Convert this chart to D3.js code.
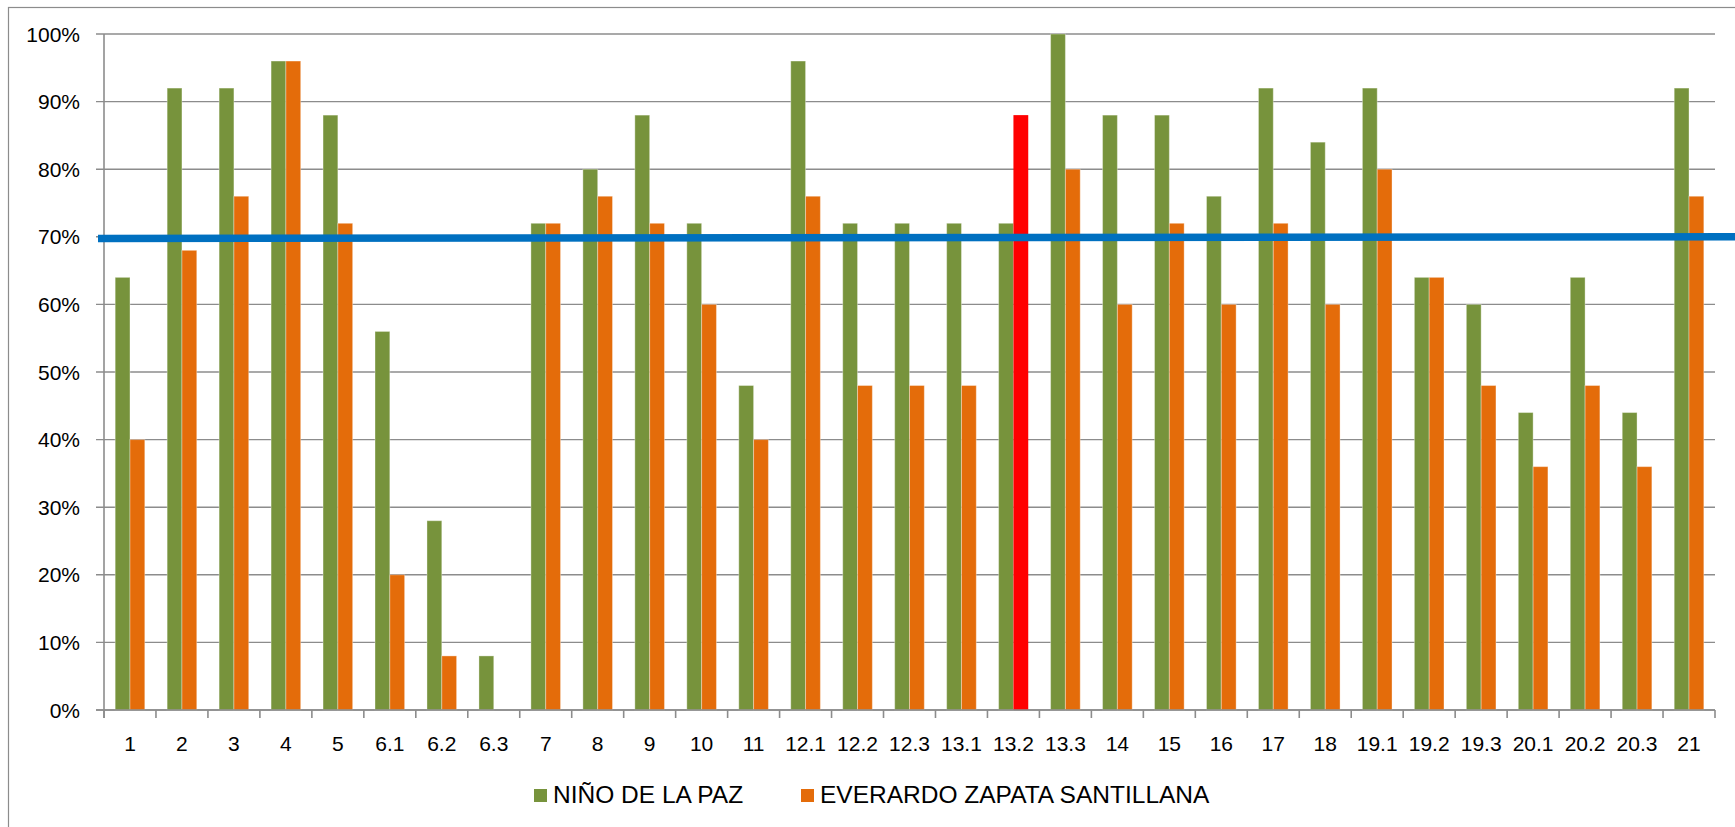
<!DOCTYPE html>
<html>
<head>
<meta charset="utf-8">
<script src="https://cdn.jsdelivr.net/npm/d3@7"></script>
<style>
  body { margin: 0; background: #fff; }
  text { font-family: 'Liberation Sans', Arial, sans-serif; fill: #000; }
</style>
</head>
<body>
<svg></svg>
<script>
let width = 1735;
let height = 827;

// data
let categories = ['1', '2', '3', '4', '5', '6.1', '6.2', '6.3', '7', '8', '9', '10', '11',
    '12.1', '12.2', '12.3', '13.1', '13.2', '13.3', '14', '15', '16', '17', '18',
    '19.1', '19.2', '19.3', '20.1', '20.2', '20.3', '21'];
let ninoDeLaPaz = [0.64, 0.92, 0.92, 0.96, 0.88, 0.56, 0.28, 0.08, 0.72, 0.80, 0.88, 0.72, 0.48,
    0.96, 0.72, 0.72, 0.72, 0.72, 1.00, 0.88, 0.88, 0.76, 0.92, 0.84,
    0.92, 0.64, 0.60, 0.44, 0.64, 0.44, 0.92];
let everardoZapata = [0.40, 0.68, 0.76, 0.96, 0.72, 0.20, 0.08, 0.00, 0.72, 0.76, 0.72, 0.60, 0.40,
    0.76, 0.48, 0.48, 0.48, 0.88, 0.80, 0.60, 0.72, 0.60, 0.72, 0.60,
    0.80, 0.64, 0.48, 0.36, 0.48, 0.36, 0.76];
let seriesNames = ['NIÑO DE LA PAZ', 'EVERARDO ZAPATA SANTILLANA'];
let highlightCategory = '13.2';
let yTicks = [0, 0.1, 0.2, 0.3, 0.4, 0.5, 0.6, 0.7, 0.8, 0.9, 1.0];
let targetLine = [0.6975, 0.70];   // hand-drawn 70% line, slightly tilted

let colors = ['#77933C', '#E46C0A'];
let highlightColor = '#FF0000';

let margin = {left: 104, right: 20, top: 34, bottom: 117};

let svg = d3.select('svg')
    .attr('width', width)
    .attr('height', height);

// outer chart frame
svg.append('rect')
    .attr('x', 8.5)
    .attr('y', 7.5)
    .attr('width', width)
    .attr('height', height)
    .attr('fill', 'none')
    .attr('stroke', '#8c8c8c')
    .attr('stroke-width', 1.2);

let x = d3.scaleBand()
    .domain(categories)
    .range([margin.left, width - margin.right]);

let xInner = d3.scaleBand()
    .domain([0, 1])
    .range([0, x.bandwidth() * 0.57])

let y = d3.scaleLinear()
    .domain([0, 1])
    .range([height - margin.bottom, margin.top]);

// gridlines
svg.append('g')
    .selectAll('line')
    .data(yTicks)
    .enter()
    .append('line')
    .attr('x1', margin.left - 8)
    .attr('x2', width - margin.right)
    .attr('y1', d => y(d))
    .attr('y2', d => y(d))
    .attr('stroke', '#8c8c8c')
    .attr('stroke-width', 1.4);

// y labels
svg.append('g')
    .selectAll('text')
    .data(yTicks)
    .enter()
    .append('text')
    .attr('x', 80)
    .attr('y', d => y(d))
    .attr('dy', '0.36em')
    .attr('text-anchor', 'end')
    .style('font-size', '21px')
    .text(d => d3.format('.0%')(d));

// bars
let rows = categories.map((c, i) => ({cat: c, vals: [ninoDeLaPaz[i], everardoZapata[i]]}));
let offset = (x.bandwidth() - x.bandwidth() * 0.57) / 2;

let groups = svg.append('g')
    .selectAll('g')
    .data(rows)
    .enter()
    .append('g')
    .attr('transform', d => 'translate(' + (x(d.cat) + offset) + ',0)');

groups.selectAll('rect')
    .data(d => d.vals.map((v, k) => ({cat: d.cat, k: k, v: v})))
    .enter()
    .filter(d => d.v > 0)
    .append('rect')
    .attr('x', d => xInner(d.k))
    .attr('width', xInner.bandwidth())
    .attr('y', d => y(d.v))
    .attr('height', d => y(0) - y(d.v))
    .attr('fill', function (d) {
        if (d.k == 1 && d.cat == highlightCategory) {
            return highlightColor;
        }
        return colors[d.k];
    })
    .attr('stroke', d => d.k == 1 && d.cat == highlightCategory ? 'none' : 'rgba(255,255,255,0.35)')
    .attr('stroke-width', 1);

// axes
let axisColor = '#8c8c8c';
svg.append('line')
    .attr('x1', margin.left)
    .attr('x2', margin.left)
    .attr('y1', y(1))
    .attr('y2', y(0) + 8)
    .attr('stroke', axisColor)
    .attr('stroke-width', 1.6);

svg.append('line')
    .attr('x1', margin.left - 8)
    .attr('x2', width - margin.right)
    .attr('y1', y(0))
    .attr('y2', y(0))
    .attr('stroke', axisColor)
    .attr('stroke-width', 1.6);

let tickPos = categories.map(c => x(c)).concat([x.range()[1]]);
svg.append('g')
    .selectAll('line')
    .data(tickPos)
    .enter()
    .append('line')
    .attr('x1', d => d)
    .attr('x2', d => d)
    .attr('y1', y(0))
    .attr('y2', y(0) + 8)
    .attr('stroke', axisColor)
    .attr('stroke-width', 1.6);

svg.append('g')
    .selectAll('text')
    .data(categories)
    .enter()
    .append('text')
    .attr('x', d => x(d) + x.bandwidth() / 2)
    .attr('y', y(0) + 41)
    .attr('text-anchor', 'middle')
    .style('font-size', '21px')
    .text(d => d);

// blue target line
svg.append('line')
    .attr('x1', margin.left - 6)
    .attr('x2', width)
    .attr('y1', y(targetLine[0]))
    .attr('y2', y(targetLine[1]))
    .attr('stroke', '#0070C0')
    .attr('stroke-width', 7.5);

// legend
let legendX = [534, 801];
let legend = svg.append('g')
    .selectAll('g')
    .data(seriesNames)
    .enter()
    .append('g')
    .attr('transform', (d, i) => 'translate(' + legendX[i] + ',789)');

legend.append('rect')
    .attr('width', 13)
    .attr('height', 13)
    .attr('fill', (d, i) => colors[i]);

legend.append('text')
    .attr('x', 19)
    .attr('y', 13.5)
    .style('font-size', '24.5px')
    .text(d => d);
</script>
</body>
</html>
